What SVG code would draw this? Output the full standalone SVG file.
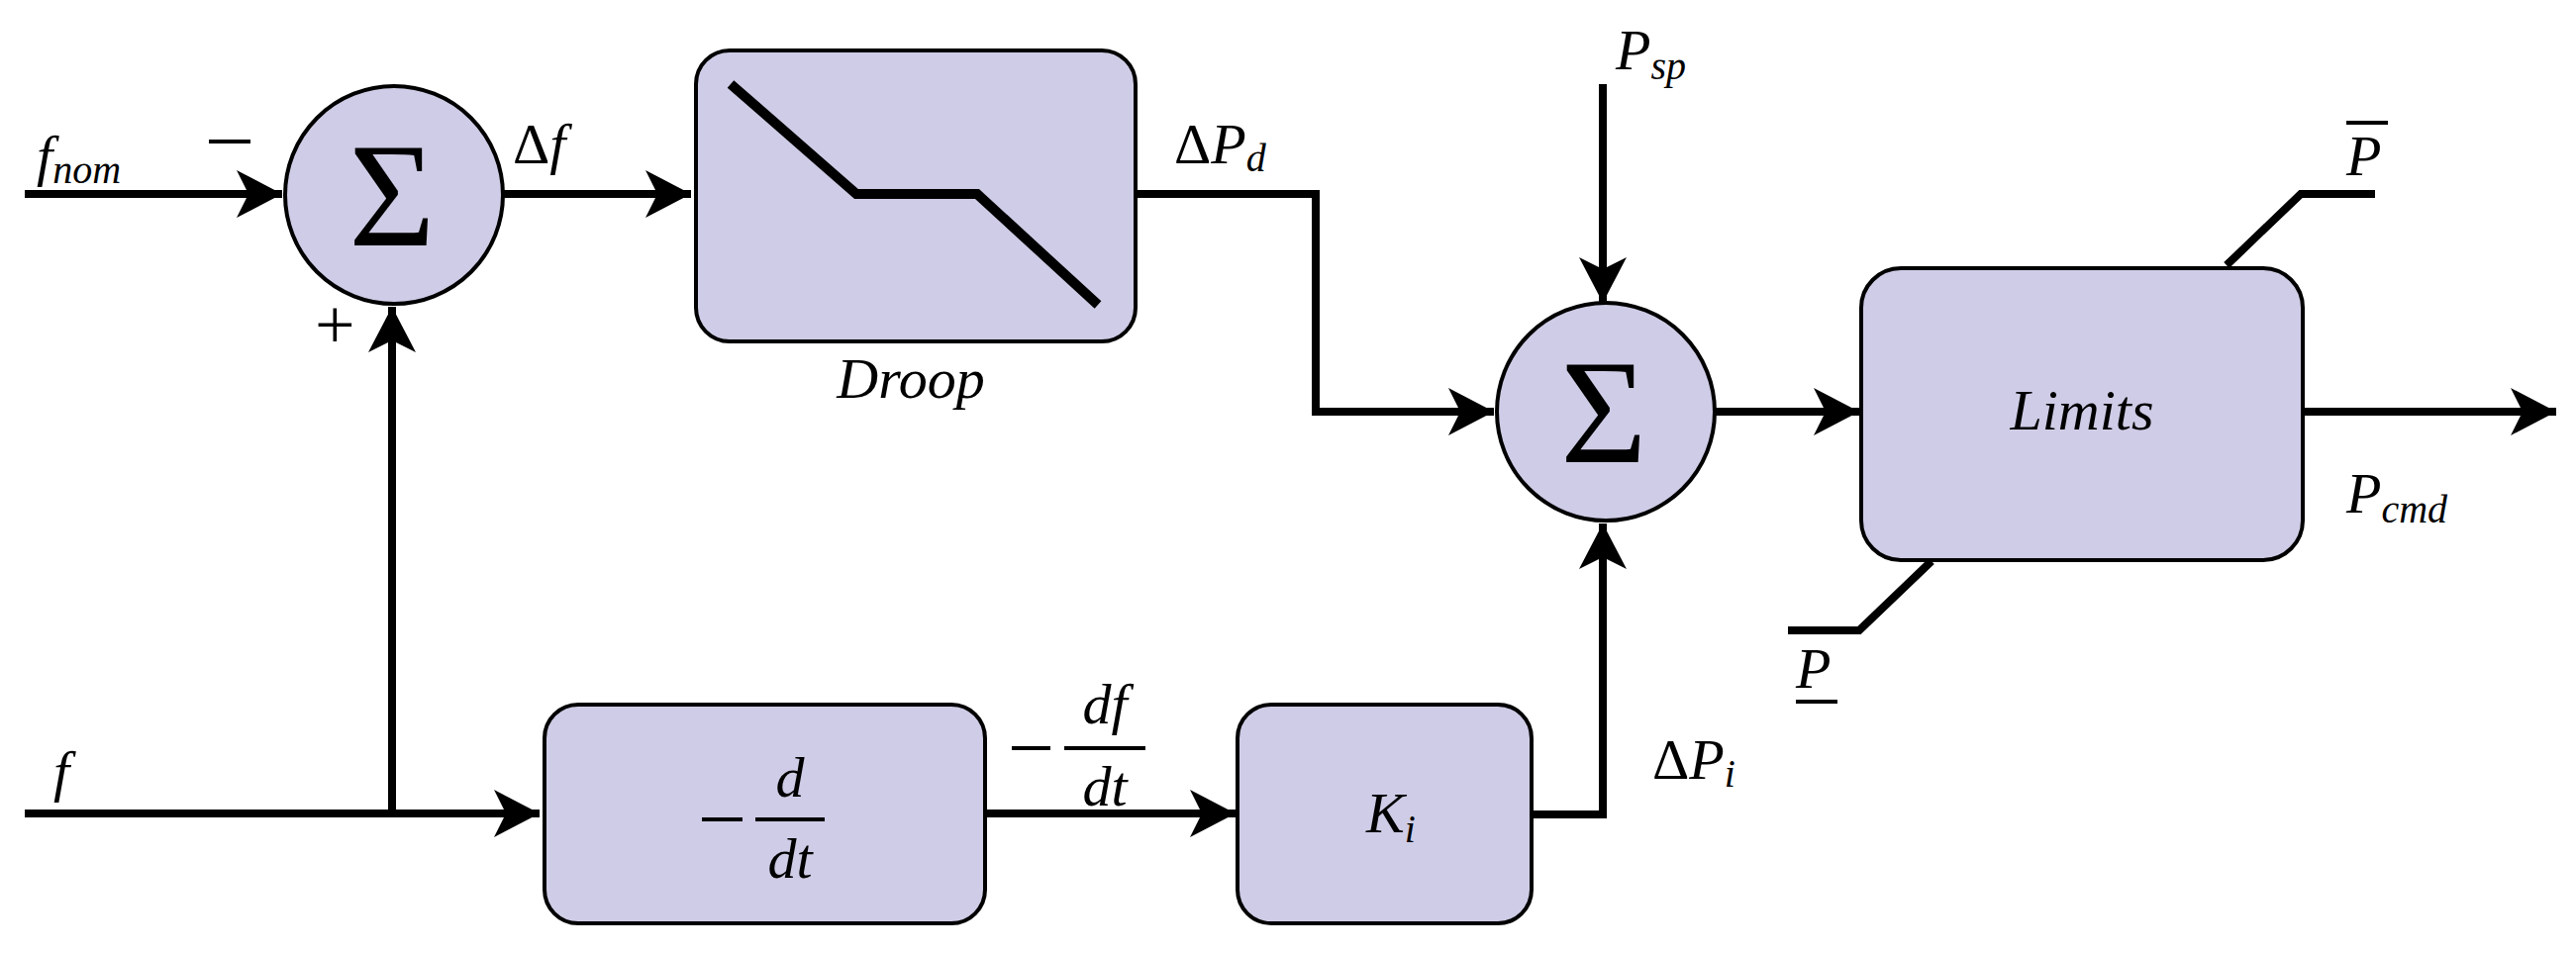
<svg xmlns="http://www.w3.org/2000/svg" width="2602" height="963" viewBox="0 0 2602 963">
<style>
.box{fill:#cecce6;stroke:#000;stroke-width:4}
.ln{fill:none;stroke:#000;stroke-width:8}
.t{font-family:"Liberation Serif",serif;font-style:italic;font-size:58px;fill:#000}
.s{font-size:40px}
.u{font-family:"Liberation Serif",serif;font-size:58px;fill:#000}
.sig{font-family:"Liberation Serif",serif;font-size:150px;fill:#000;text-anchor:middle}
</style>
<defs>
<marker id="ar" markerUnits="userSpaceOnUse" markerWidth="60" markerHeight="60" viewBox="-50 -30 60 60" refX="0" refY="0" orient="auto">
<path d="M-46,-24 L0,0 L-46,24 L-34,0 Z" fill="#000"/>
</marker>
</defs>
<rect width="2602" height="963" fill="#fff"/>
<g id="connectors">
<path class="ln" d="M25,196 H285" marker-end="url(#ar)"/>
<path class="ln" d="M25,822 H545" marker-end="url(#ar)"/>
<path class="ln" d="M396,822 V310" marker-end="url(#ar)"/>
<path class="ln" d="M508,196 H698" marker-end="url(#ar)"/>
<path class="ln" d="M1147,196 H1329 V416 H1509" marker-end="url(#ar)"/>
<path class="ln" d="M995,822 H1248" marker-end="url(#ar)"/>
<path class="ln" d="M1547,823 H1619 V529" marker-end="url(#ar)"/>
<path class="ln" d="M1619,85 V306" marker-end="url(#ar)"/>
<path class="ln" d="M1732,416 H1878" marker-end="url(#ar)"/>
<path class="ln" d="M2326,416 H2582" marker-end="url(#ar)"/>
<path class="ln" d="M2249,268 L2324,196 H2399"/>
<path class="ln" d="M1951,567 L1878,637 H1806"/>
</g>
<g id="sum1"><ellipse class="box" cx="398" cy="197" rx="110" ry="110"/><text class="sig" x="396" y="248">Σ</text></g>
<g id="droop"><rect class="box" x="703" y="51" width="444" height="294" rx="34"/><path class="ln" d="M738,85 L865,196 H987 L1109,308" style="stroke-width:10"/><text class="t" x="920" y="402" text-anchor="middle">Droop</text></g>
<g id="deriv"><rect class="box" x="550" y="712" width="445" height="221" rx="34"/>
<path class="ln" style="stroke-width:4" d="M709,828 H750 M763,828 H833"/>
<text class="t" x="798" y="805" text-anchor="middle">d</text><text class="t" x="798" y="887" text-anchor="middle">dt</text></g>
<g id="ki"><rect class="box" x="1250" y="712" width="297" height="221" rx="34"/><text class="t" x="1380" y="841">K<tspan class="s" dy="10">i</tspan></text></g>
<g id="sum2"><ellipse class="box" cx="1622" cy="416" rx="110" ry="110"/><text class="sig" x="1620" y="467">Σ</text></g>
<g id="limits"><rect class="box" x="1880" y="271" width="446" height="295" rx="40"/><text class="t" x="2103" y="434" text-anchor="middle">Limits</text></g>
<g id="labels">
<text class="t" x="37" y="177">f<tspan class="s" dy="8">nom</tspan></text>
<path class="ln" style="stroke-width:4" d="M211,143 H253"/>
<text class="u" x="318" y="352" style="font-size:72px">+</text>
<text class="u" x="518" y="165">Δ<tspan class="t">f</tspan></text>
<text class="t" x="54" y="799">f</text>
<path class="ln" style="stroke-width:4" d="M1022,756 H1061 M1075,756 H1157"/>
<text class="t" x="1116" y="731" text-anchor="middle">df</text><text class="t" x="1116" y="814" text-anchor="middle">dt</text>
<text class="u" x="1186" y="165">Δ<tspan class="t">P</tspan><tspan class="t s" dy="8">d</tspan></text>
<text class="u" x="1669" y="787">Δ<tspan class="t">P</tspan><tspan class="t s" dy="8">i</tspan></text>
<text class="t" x="1632" y="70">P<tspan class="s" dy="10">sp</tspan></text>
<text class="t" x="2370" y="518">P<tspan class="s" dy="10">cmd</tspan></text>
<text class="t" x="2370" y="177">P</text><path class="ln" style="stroke-width:4" d="M2370,124 H2412"/>
<text class="t" x="1814" y="695">P</text><path class="ln" style="stroke-width:4" d="M1814,709 H1856"/>
</g>
</svg>
